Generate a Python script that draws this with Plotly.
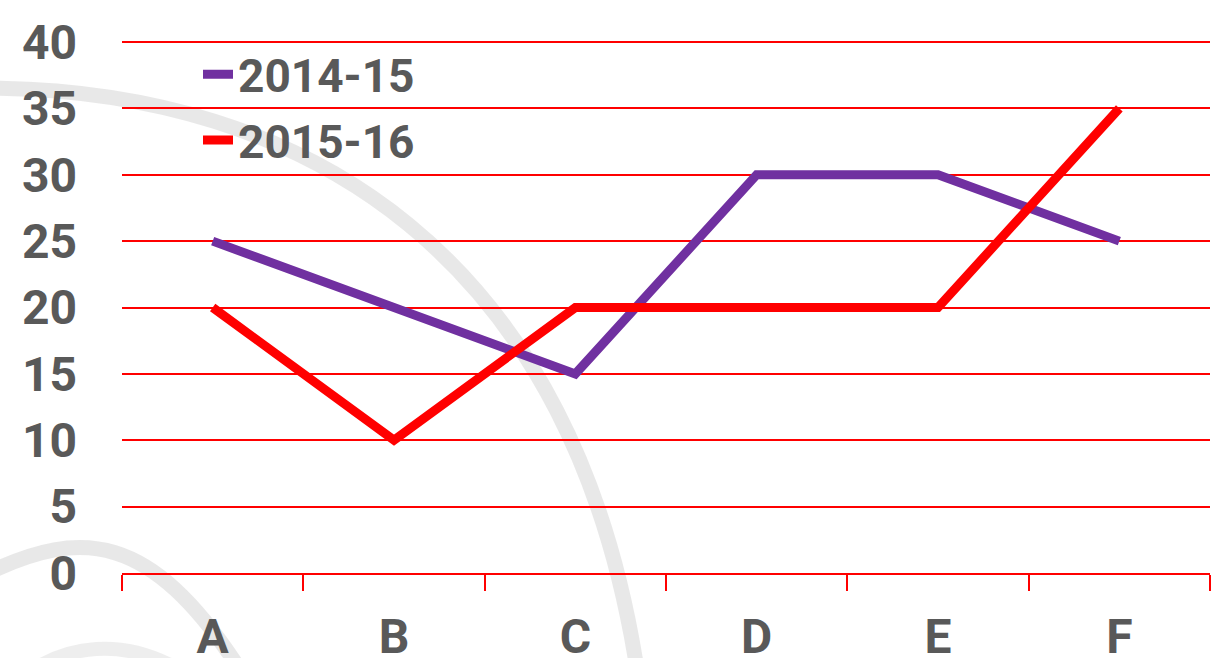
import plotly.graph_objects as go

categories = ["A", "B", "C", "D", "E", "F"]
series_2014_15 = [25, 20, 15, 30, 30, 25]
series_2015_16 = [20, 10, 20, 20, 20, 35]
y_ticks = [0, 5, 10, 15, 20, 25, 30, 35, 40]

W, H = 1214, 658
L, R, T, B = 122, 4, 40, 85
pw, ph = W - L - R, H - T - B

def px(x, y):
    return (x - L) / pw, (H - B - y) / ph

def path(points):
    p = [px(*pt) for pt in points]
    s = "M {:.4f} {:.4f} C ".format(*p[0])
    s += " ".join("{:.4f} {:.4f}".format(*q) for q in p[1:])
    return s

fig = go.Figure()
fig.add_trace(go.Scatter(x=categories, y=series_2014_15, mode="lines", name="2014-15",
                         legendgroup="a",
                         line=dict(color="#7030A0", width=9)))
fig.add_trace(go.Scatter(x=categories, y=series_2015_16, mode="lines", name="2015-16",
                         legendgroup="b",
                         line=dict(color="#FF0000", width=9)))

arc_style = dict(color="rgba(150,150,150,0.22)", width=15)
fig.add_shape(type="path", xref="paper", yref="paper", layer="below",
              path=path([(-10, 88), (300, 90), (580, 250), (640, 690)]),
              line=arc_style)
fig.add_shape(type="path", xref="paper", yref="paper", layer="below",
              path=path([(-10, 572), (80, 530), (150, 530), (240, 670)]),
              line=arc_style)
fig.add_shape(type="path", xref="paper", yref="paper", layer="below",
              path=path([(30, 672), (70, 645), (120, 640), (170, 665)]),
              line=dict(color="rgba(150,150,150,0.16)", width=14))

font_family = "Roboto, 'Open Sans', sans-serif"
fig.update_layout(
    width=W, height=H,
    margin=dict(l=L, r=R, t=T, b=B, autoexpand=False),
    paper_bgcolor="white", plot_bgcolor="rgba(0,0,0,0)",
    font=dict(family=font_family, color="#595959", size=46, weight="bold"),
    showlegend=True,
    legend=dict(x=(198 - L) / pw, y=1.004, xanchor="left", yanchor="top",
                bgcolor="rgba(0,0,0,0)", tracegroupgap=3,
                font=dict(size=46, color="#595959", family=font_family, weight="bold")),
    xaxis=dict(type="category", range=[-0.5, 5.5], tickson="boundaries",
               ticks="outside", ticklen=16, tickwidth=2, tickcolor="#FF0000",
               showline=True, linecolor="#FF0000", linewidth=2, automargin=False,
               showgrid=False, zeroline=False, ticklabelstandoff=20,
               tickfont=dict(size=48, color="#595959", family=font_family, weight="bold")),
    yaxis=dict(range=[0, 40.15], tickvals=y_ticks, showgrid=True, gridcolor="#FF0000",
               gridwidth=1.5, zeroline=False, showline=False, ticks="",
               ticklabelstandoff=44, automargin=False,
               tickfont=dict(size=48, color="#595959", family=font_family, weight="bold")),
)

fig.write_html("out.html", config={"displayModeBar": False},
               post_script="document.body.style.margin='0';document.body.style.overflow='hidden';")
